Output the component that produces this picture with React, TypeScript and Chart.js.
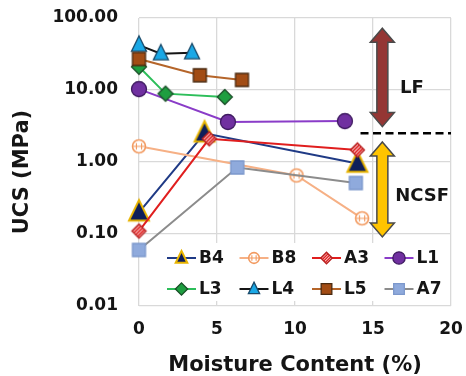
import React, { useEffect, useRef } from 'react';
import { Chart, registerables } from 'chart.js';

Chart.register(...registerables);

// ---- data ----
const xTicks = [0, 5, 10, 15, 20];
const yTicks = [0.01, 0.1, 1, 10, 100];

const b4X = [0, 4.2, 14.0];
const b4Y = [0.2, 2.5, 0.95];
const b8X = [0, 10.1, 14.3];
const b8Y = [1.65, 0.65, 0.165];
const a3X = [0, 4.5, 14.0];
const a3Y = [0.11, 2.1, 1.47];
const l1X = [0, 5.7, 13.2];
const l1Y = [10.3, 3.6, 3.7];
const l3X = [0, 1.7, 5.5];
const l3Y = [21, 8.9, 8.0];
const l4X = [0, 1.4, 3.4];
const l4Y = [42, 32, 33];
const l5X = [0, 3.9, 6.6];
const l5Y = [27, 16, 13.8];
const a7X = [0, 6.3, 13.9];
const a7Y = [0.06, 0.84, 0.51];

// annotation values (data units)
const arrowX = 15.6;
const lfRange = [72, 3.1];
const ncsfRange = [1.9, 0.091];
const boundaryY = 2.5;
const boundaryX = [14.2, 20];
const lfLabel = { text: 'LF', x: 17.5, y: 10.7 };
const ncsfLabel = { text: 'NCSF', x: 18.15, y: 0.33 };

const xTitle = 'Moisture Content (%)';
const yTitle = 'UCS (MPa)';

const FONT = "'DejaVu Sans', 'Open Sans', sans-serif";
const TXT = '#151515';

type Shape = 'triangle' | 'circle' | 'diamond' | 'square' | 'circleH' | 'diamondStriped';
interface Marker { shape: Shape; size: number; fill: string; stroke: string; lw: number; }
interface Series { name: string; x: number[]; y: number[]; line: string; marker: Marker; }

const series: Series[] = [
  { name: 'B4', x: b4X, y: b4Y, line: '#1F3A85', marker: { shape: 'triangle', size: 20, fill: '#0E1E5A', stroke: '#E8B400', lw: 2 } },
  { name: 'B8', x: b8X, y: b8Y, line: '#F6B085', marker: { shape: 'circleH', size: 13, fill: '#FFFFFF', stroke: '#F29A60', lw: 1.6 } },
  { name: 'A3', x: a3X, y: a3Y, line: '#E01E1E', marker: { shape: 'diamondStriped', size: 14, fill: '#FFFFFF', stroke: '#B82020', lw: 1.4 } },
  { name: 'L1', x: l1X, y: l1Y, line: '#8A3CC8', marker: { shape: 'circle', size: 15, fill: '#7030A0', stroke: '#3E1A60', lw: 1.3 } },
  { name: 'L3', x: l3X, y: l3Y, line: '#2DBE5A', marker: { shape: 'diamond', size: 15, fill: '#1E9E40', stroke: '#1A4F28', lw: 1.3 } },
  { name: 'L4', x: l4X, y: l4Y, line: '#151515', marker: { shape: 'triangle', size: 15, fill: '#1AA8E6', stroke: '#1A4A6A', lw: 1.3 } },
  { name: 'L5', x: l5X, y: l5Y, line: '#B5652A', marker: { shape: 'square', size: 13, fill: '#A24C14', stroke: '#4A2A10', lw: 1.3 } },
  { name: 'A7', x: a7X, y: a7Y, line: '#8C8C8C', marker: { shape: 'square', size: 13, fill: '#8FAADC', stroke: '#7C98CC', lw: 1.3 } },
];

function markerPath(ctx: CanvasRenderingContext2D, shape: Shape, cx: number, cy: number, s: number) {
  ctx.beginPath();
  switch (shape) {
    case 'triangle': {
      const h = s * 1.02;
      ctx.moveTo(cx, cy - h * 0.6);
      ctx.lineTo(cx + s / 2, cy + h * 0.4);
      ctx.lineTo(cx - s / 2, cy + h * 0.4);
      ctx.closePath();
      break;
    }
    case 'circle':
    case 'circleH':
      ctx.arc(cx, cy, s / 2, 0, Math.PI * 2);
      break;
    case 'diamond':
    case 'diamondStriped':
      ctx.moveTo(cx, cy - s / 2);
      ctx.lineTo(cx + s / 2, cy);
      ctx.lineTo(cx, cy + s / 2);
      ctx.lineTo(cx - s / 2, cy);
      ctx.closePath();
      break;
    case 'square':
      ctx.rect(cx - s / 2, cy - s / 2, s, s);
      break;
  }
}

function drawMarker(ctx: CanvasRenderingContext2D, m: Marker, cx: number, cy: number, scale = 1) {
  const s = m.size * scale;
  ctx.save();
  ctx.lineWidth = m.lw;
  ctx.fillStyle = m.fill;
  ctx.strokeStyle = m.stroke;
  ctx.lineJoin = 'miter';
  markerPath(ctx, m.shape, cx, cy, s);
  ctx.fill();
  if (m.shape === 'diamondStriped') {
    ctx.save();
    ctx.clip();
    ctx.strokeStyle = '#E02020';
    ctx.lineWidth = 1.8 * Math.max(scale, 0.75);
    const step = 3.6 * Math.max(scale, 0.8);
    for (let d = -s; d <= s; d += step) {
      ctx.beginPath();
      ctx.moveTo(cx - s + d, cy + s);
      ctx.lineTo(cx + s + d, cy - s);
      ctx.stroke();
    }
    ctx.restore();
    markerPath(ctx, m.shape, cx, cy, s);
  }
  ctx.stroke();
  if (m.shape === 'circleH') {
    ctx.beginPath();
    ctx.lineWidth = 1.1;
    ctx.moveTo(cx - s / 2, cy);
    ctx.lineTo(cx + s / 2, cy);
    ctx.moveTo(cx - s / 5, cy - s / 4);
    ctx.lineTo(cx - s / 5, cy + s / 4);
    ctx.moveTo(cx + s / 5, cy - s / 4);
    ctx.lineTo(cx + s / 5, cy + s / 4);
    ctx.stroke();
  }
  ctx.restore();
}

function makePointCanvas(m: Marker): HTMLCanvasElement {
  const c = document.createElement('canvas');
  const d = Math.ceil(m.size * 1.1 + m.lw * 2 + 4);
  c.width = d;
  c.height = d;
  const ctx = c.getContext('2d')!;
  drawMarker(ctx, m, d / 2, d / 2, 1);
  return c;
}

function drawDoubleArrow(ctx: CanvasRenderingContext2D, x: number, y1: number, y2: number, fill: string) {
  const sw = 5.5, hw = 12, hl = 14;
  ctx.save();
  ctx.beginPath();
  ctx.moveTo(x, y1);
  ctx.lineTo(x + hw, y1 + hl);
  ctx.lineTo(x + sw, y1 + hl);
  ctx.lineTo(x + sw, y2 - hl);
  ctx.lineTo(x + hw, y2 - hl);
  ctx.lineTo(x, y2);
  ctx.lineTo(x - hw, y2 - hl);
  ctx.lineTo(x - sw, y2 - hl);
  ctx.lineTo(x - sw, y1 + hl);
  ctx.lineTo(x - hw, y1 + hl);
  ctx.closePath();
  ctx.fillStyle = fill;
  ctx.fill();
  ctx.lineWidth = 1.5;
  ctx.strokeStyle = '#4A4A4A';
  ctx.stroke();
  ctx.restore();
}

const annotationPlugin = {
  id: 'annotations',
  afterDatasetsDraw(chart: any) {
    const ctx: CanvasRenderingContext2D = chart.ctx;
    const xs = chart.scales.x;
    const ys = chart.scales.y;
    const ca = chart.chartArea;
    const ax = xs.getPixelForValue(arrowX);
    drawDoubleArrow(ctx, ax, ys.getPixelForValue(lfRange[0]), ys.getPixelForValue(lfRange[1]), '#943634');
    drawDoubleArrow(ctx, ax, ys.getPixelForValue(ncsfRange[0]), ys.getPixelForValue(ncsfRange[1]), '#FFC400');
    // dashed boundary
    ctx.save();
    ctx.beginPath();
    ctx.setLineDash([8, 4.5]);
    ctx.lineWidth = 2.5;
    ctx.strokeStyle = '#000';
    const by = ys.getPixelForValue(boundaryY);
    ctx.moveTo(xs.getPixelForValue(boundaryX[0]), by);
    ctx.lineTo(xs.getPixelForValue(boundaryX[1]), by);
    ctx.stroke();
    ctx.restore();
    // labels
    ctx.save();
    ctx.fillStyle = TXT;
    ctx.font = `bold 18px ${FONT}`;
    ctx.textAlign = 'center';
    ctx.textBaseline = 'middle';
    for (const l of [lfLabel, ncsfLabel]) {
      ctx.fillText(l.text, xs.getPixelForValue(l.x), ys.getPixelForValue(l.y));
    }
    ctx.restore();

    // legend (inside plot area)
    const left = ca.left + 19;
    const right = ca.right - 4;
    const bottom = ca.bottom - 5;
    const top = bottom - 58;
    ctx.save();
    ctx.fillStyle = '#FFFFFF';
    ctx.fillRect(left, top, right - left, bottom - top);
    ctx.font = `bold 17px ${FONT}`;
    ctx.textAlign = 'left';
    ctx.textBaseline = 'middle';
    const colW = 72.5;
    const rowY = [top + 15, top + 46];
    series.forEach((s, i) => {
      const col = i % 4;
      const row = Math.floor(i / 4);
      const x0 = left + 9 + col * colW;
      const y = rowY[row];
      ctx.beginPath();
      ctx.strokeStyle = s.line;
      ctx.lineWidth = 2;
      ctx.moveTo(x0, y);
      ctx.lineTo(x0 + 29, y);
      ctx.stroke();
      drawMarker(ctx, s.marker, x0 + 14.5, y, s.marker.shape === 'triangle' ? (s.name === 'B4' ? 0.58 : 0.75) : 0.82);
      ctx.fillStyle = TXT;
      ctx.fillText(s.name, x0 + 32, y + 1);
    });
    ctx.restore();
  },
  afterDraw(chart: any) {
    const ctx: CanvasRenderingContext2D = chart.ctx;
    const ca = chart.chartArea;
    ctx.save();
    ctx.fillStyle = TXT;
    ctx.font = `bold 21px ${FONT}`;
    ctx.textAlign = 'center';
    ctx.textBaseline = 'alphabetic';
    ctx.fillText(xTitle, (ca.left + ca.right) / 2, ca.bottom + 65);
    ctx.translate(ca.left - 116, (ca.top + ca.bottom) / 2 + 10);
    ctx.rotate(-Math.PI / 2);
    ctx.textBaseline = 'middle';
    ctx.fillText(yTitle, 0, 0);
    ctx.restore();
  },
};

export default function App() {
  const ref = useRef<HTMLCanvasElement | null>(null);
  useEffect(() => {
    const canvas = ref.current!;
    const datasets = series.map((s, i) => ({
      label: s.name,
      data: s.x.map((x, k) => ({ x, y: s.y[k] })),
      borderColor: s.line,
      backgroundColor: s.line,
      borderWidth: 2,
      pointStyle: makePointCanvas(s.marker),
      pointRadius: 8,
      tension: 0,
      fill: false,
      clip: false,
      order: -i,
    }));
    const chart = new Chart(canvas, {
      type: 'line',
      data: { datasets },
      plugins: [annotationPlugin],
      options: {
        animation: false,
        responsive: false,
        maintainAspectRatio: false,
        layout: { padding: { top: 18, right: 15, left: 0, bottom: 0 } },
        plugins: { legend: { display: false }, tooltip: { enabled: false } },
        scales: {
          x: {
            type: 'linear',
            min: 0,
            max: 20,
            afterBuildTicks: (s: any) => { s.ticks = xTicks.map((v) => ({ value: v })); },
            afterFit: (s: any) => { s.height = 70; s.paddingLeft = 0; s.paddingRight = 0; },
            ticks: { color: TXT, font: { family: FONT, size: 17, weight: 'bold' }, padding: 13 },
            grid: { color: '#D9D9D9', lineWidth: 1.3, drawTicks: false },
            border: { display: false },
          },
          y: {
            type: 'logarithmic',
            min: 0.01,
            max: 100,
            afterBuildTicks: (s: any) => { s.ticks = yTicks.map((v) => ({ value: v })); },
            afterFit: (s: any) => { s.width = 139; s.paddingTop = 0; s.paddingBottom = 0; },
            ticks: { color: TXT, font: { family: FONT, size: 17, weight: 'bold' }, padding: 21, callback: (v: any) => Number(v).toFixed(2) },
            grid: { color: '#D9D9D9', lineWidth: 1.3, drawTicks: false },
            border: { display: false },
          },
        },
      } as any,
    });
    return () => chart.destroy();
  }, []);
  return (
    <div style={{ position: 'fixed', left: 0, top: 0, width: 466, height: 376, background: '#fff' }}>
      <canvas ref={ref} width={466} height={376} style={{ width: 466, height: 376, display: 'block' }} />
    </div>
  );
}
